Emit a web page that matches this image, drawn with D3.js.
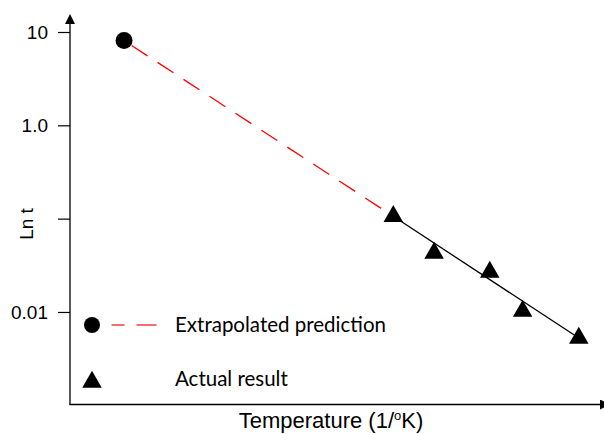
<!DOCTYPE html>
<html>
<head>
<meta charset="utf-8">
<script src="https://d3js.org/d3.v7.min.js"></script>
<style>
	body { margin: 0; background: #fff; }
	svg { display: block; }
	.tick text { font-family: "Liberation Sans", Arial, sans-serif; font-size: 19px; fill: #000; }
	.lbl { font-family: "Liberation Sans", Arial, sans-serif; fill: #000; }
	.leg { font-family: Lato, "Open Sans", sans-serif; font-size: 20.5px; fill: #000; }
</style>
</head>
<body>
<div id="chart"></div>
<script>
// data (x in arbitrary 1/T units, y = time, log scale)
var predX = [1.02],
	predY = [8.1];
var actualX = [6.10, 6.87, 7.92, 8.54, 9.60],
	actualY = [0.106, 0.0428, 0.0268, 0.0102, 0.00526];
var yTickValues = [10, 1, 0.1, 0.01],
	yTickLabels = ["10", "1.0", "", "0.01"];
var legendLabels = ["Extrapolated prediction", "Actual result"];

var Chart = (function() {
	"use strict";

	var width = 604,
		height = 434;

	var svg, xScale, yScale;

	function createChart() {
		svg = d3.select("#chart").append("svg")
			.attr("width", width)
			.attr("height", height);

		// arrow heads for both axes
		var defs = svg.append("defs");
		defs.append("marker")
			.attr("id", "arrow")
			.attr("viewBox", "0 0 10 10")
			.attr("refX", 0).attr("refY", 5)
			.attr("markerWidth", 10).attr("markerHeight", 10)
			.attr("markerUnits", "userSpaceOnUse")
			.attr("orient", "auto")
			.append("path")
			.attr("d", "M0,0L10,5L0,10Z")
			.attr("fill", "#000");

		xScale = d3.scaleLinear().domain([0, 10]).range([70, 600]);
		yScale = d3.scaleLog().domain([0.001, 10]).range([405.3, 32]);

		//************ AXES ************
		var yAxis = d3.axisLeft(yScale)
			.tickValues(yTickValues)
			.tickSize(12)
			.tickPadding(10)
			.tickFormat(function(d, i) { return yTickLabels[i]; });

		var gy = svg.append("g")
			.attr("transform", "translate(70,0)")
			.call(yAxis);
		gy.select(".domain").remove();
		gy.selectAll(".tick line").attr("stroke", "#000").attr("stroke-width", 1.2);

		// y axis line with arrow
		svg.append("line")
			.attr("x1", 70).attr("y1", 405)
			.attr("x2", 70).attr("y2", 24)
			.attr("stroke", "#000").attr("stroke-width", 1.3)
			.attr("marker-end", "url(#arrow)");

		// x axis line with arrow (tip runs off the edge)
		svg.append("line")
			.attr("x1", 69.5).attr("y1", 404.5)
			.attr("x2", 600).attr("y2", 404.5)
			.attr("stroke", "#000").attr("stroke-width", 1.3)
			.attr("marker-end", "url(#arrow)");

		svg.append("text")
			.attr("class", "lbl")
			.attr("font-size", "19px")
			.attr("transform", "translate(33,224) rotate(-90)")
			.attr("text-anchor", "middle")
			.text("Ln t");

		var xl = svg.append("text")
			.attr("class", "lbl")
			.attr("font-size", "22px")
			.attr("x", 331).attr("y", 428)
			.attr("text-anchor", "middle");
		xl.append("tspan").text("Temperature (1/");
		xl.append("tspan").attr("font-size", "13px").attr("dy", -8).text("o");
		xl.append("tspan").attr("dy", 8).text("K)");

		//************ LINES ************
		var line = d3.line()
			.x(function(d) { return xScale(d[0]); })
			.y(function(d) { return yScale(d[1]); });

		// extrapolation from the first actual result back to the prediction
		svg.append("path")
			.attr("d", line([[predX[0], predY[0]], [actualX[0], actualY[0]]]))
			.attr("fill", "none")
			.attr("stroke", "#ff0000")
			.attr("stroke-width", 1.3)
			.attr("stroke-dasharray", "19,12")
			.attr("stroke-dashoffset", -9);

		// fitted line through the actual results
		var n = actualX.length - 1;
		svg.append("path")
			.attr("d", line([[actualX[0], actualY[0]], [actualX[n], actualY[n]]]))
			.attr("fill", "none")
			.attr("stroke", "#000")
			.attr("stroke-width", 1.3);

		//************ MARKERS ************
		svg.selectAll("circle.pred")
			.data(predX)
			.enter().append("circle")
			.attr("class", "pred")
			.attr("cx", function(d) { return xScale(d); })
			.attr("cy", function(d, i) { return yScale(predY[i]); })
			.attr("r", 8.5)
			.attr("fill", "#000");

		var tri = d3.symbol().type(d3.symbolTriangle).size(165);
		svg.selectAll("path.act")
			.data(actualX)
			.enter().append("path")
			.attr("class", "act")
			.attr("d", tri)
			.attr("transform", function(d, i) {
				return "translate(" + xScale(d) + "," + yScale(actualY[i]) + ")";
			})
			.attr("fill", "#000");

		//************ LEGEND ************
		var leg = svg.append("g");
		leg.append("circle")
			.attr("cx", 92).attr("cy", 325).attr("r", 8)
			.attr("fill", "#000");
		leg.append("line")
			.attr("x1", 111.5).attr("y1", 325)
			.attr("x2", 163.5).attr("y2", 325)
			.attr("stroke", "#f04040").attr("stroke-width", 1.5)
			.attr("stroke-dasharray", "20,12")
			.attr("stroke-dashoffset", 7);
		leg.append("path")
			.attr("d", tri)
			.attr("transform", "translate(92,382)")
			.attr("fill", "#000");
		leg.selectAll("text")
			.data(legendLabels)
			.enter().append("text")
			.attr("class", "leg")
			.attr("x", 175)
			.attr("y", function(d, i) { return 332 + i * 54; })
			.text(function(d) { return d; });
	}

	return {
		createChart: createChart
	};

}());

Chart.createChart();
</script>
</body>
</html>
